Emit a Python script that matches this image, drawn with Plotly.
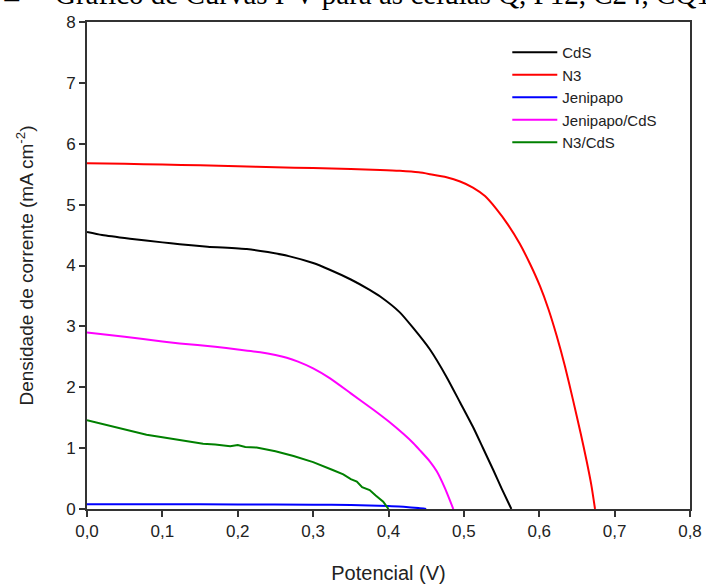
import plotly.graph_objects as go

# ---- data ----
v_cds = [0, 0.02, 0.057, 0.1, 0.123, 0.16, 0.212, 0.24, 0.269, 0.3, 0.322, 0.35, 0.375, 0.389, 0.415,
         0.433, 0.455, 0.477, 0.495, 0.512, 0.525, 0.539, 0.55, 0.563]
j_cds = [4.55, 4.50, 4.44, 4.38, 4.35, 4.31, 4.27, 4.22, 4.15, 4.04, 3.93, 3.77, 3.60, 3.49, 3.23,
         2.97, 2.62, 2.17, 1.75, 1.35, 1.01, 0.64, 0.34, 0.0]

v_n3 = [0, 0.05, 0.1, 0.15, 0.2, 0.25, 0.3, 0.35, 0.389, 0.415, 0.44, 0.455, 0.477, 0.495, 0.512,
        0.528, 0.543, 0.558, 0.574, 0.588, 0.601, 0.612, 0.623, 0.634, 0.645, 0.655, 0.663, 0.669, 0.674]
j_n3 = [5.68, 5.67, 5.66, 5.645, 5.63, 5.615, 5.60, 5.585, 5.57, 5.555, 5.53, 5.50, 5.45, 5.38, 5.28,
        5.14, 4.93, 4.68, 4.36, 4.02, 3.66, 3.29, 2.85, 2.35, 1.78, 1.24, 0.78, 0.40, 0.0]

v_jen = [0, 0.1, 0.2, 0.3, 0.35, 0.4, 0.42, 0.44, 0.45]
j_jen = [0.08, 0.078, 0.075, 0.07, 0.065, 0.05, 0.035, 0.015, 0.0]

v_jcds = [0, 0.05, 0.1, 0.123, 0.17, 0.2, 0.23, 0.25, 0.265, 0.28, 0.3, 0.322, 0.35, 0.38, 0.4,
          0.42, 0.433, 0.442, 0.455, 0.464, 0.475, 0.486]
j_jcds = [2.90, 2.83, 2.75, 2.72, 2.665, 2.62, 2.575, 2.53, 2.485, 2.42, 2.31, 2.15, 1.90, 1.63, 1.44,
          1.23, 1.08, 0.96, 0.78, 0.62, 0.34, 0.0]

v_n3cds = [0, 0.02, 0.05, 0.079, 0.1, 0.13, 0.154, 0.17, 0.19, 0.2, 0.21, 0.225, 0.25, 0.274, 0.3,
           0.326, 0.34, 0.35, 0.358, 0.365, 0.375, 0.383, 0.393, 0.4]
j_n3cds = [1.46, 1.40, 1.30, 1.22, 1.18, 1.12, 1.07, 1.06, 1.03, 1.05, 1.02, 1.01, 0.95, 0.87, 0.77,
           0.64, 0.57, 0.49, 0.45, 0.36, 0.31, 0.22, 0.12, 0.0]

series = [
    ("CdS", v_cds, j_cds, "#000000", "spline"),
    ("N3", v_n3, j_n3, "#ff0000", "spline"),
    ("Jenipapo", v_jen, j_jen, "#0000ff", "spline"),
    ("Jenipapo/CdS", v_jcds, j_jcds, "#ff00ff", "spline"),
    ("N3/CdS", v_n3cds, j_n3cds, "#008000", "linear"),
]

x_ticks = [0, 0.1, 0.2, 0.3, 0.4, 0.5, 0.6, 0.7, 0.8]
y_ticks = [0, 1, 2, 3, 4, 5, 6, 7, 8]

fig = go.Figure()
for name, xs, ys, col, shp in series:
    line = dict(color=col, width=2, shape=shp)
    if shp == "spline":
        line["smoothing"] = 0.6
    fig.add_trace(go.Scatter(x=xs, y=ys, mode="lines", name=name, line=line))

axis_common = dict(showgrid=False, zeroline=False, showline=True, linecolor="#333333", linewidth=2,
                   mirror=True, ticks="outside", ticklen=6, tickwidth=2, tickcolor="#333333",
                   automargin=False,
                   tickfont=dict(family="Liberation Sans, Arial", size=17, color="#222222"))

fig.update_layout(
    width=706, height=586,
    margin=dict(l=87, r=16, t=22, b=77),
    paper_bgcolor="white", plot_bgcolor="white",
    separators=", ",
    font=dict(family="Liberation Sans, Arial", color="#222222"),
    xaxis=dict(range=[0, 0.8], tickvals=x_ticks, tickformat=".1f",
               title=dict(text="Potencial (V)", font=dict(size=20), standoff=26), **axis_common),
    yaxis=dict(range=[0, 8], tickvals=y_ticks,
               title=dict(text="Densidade de corrente (mA cm<sup>-2</sup>)", font=dict(size=19), standoff=27),
               **axis_common),
    legend=dict(x=0.697, y=0.971, xanchor="left", yanchor="top", bgcolor="rgba(0,0,0,0)",
                font=dict(size=15, family="Liberation Sans, Arial", color="#222222"),
                itemwidth=45, tracegroupgap=0),
    showlegend=True,
)

cap_font = dict(family="Liberation Serif, Times New Roman", size=29, color="#000000")
fig.add_annotation(text="4.7 –", xref="paper", yref="paper", x=(22 - 87) / 603, y=1.012,
                   xanchor="right", yanchor="bottom", showarrow=False, font=cap_font)
fig.add_annotation(text="Gráfico de Curvas I-V para as células Q, P12, C24, CQ12", xref="paper", yref="paper",
                   x=(53 - 87) / 603, y=1.020, xanchor="left", yanchor="bottom", showarrow=False,
                   font=cap_font)

fig.write_html("out.html")
